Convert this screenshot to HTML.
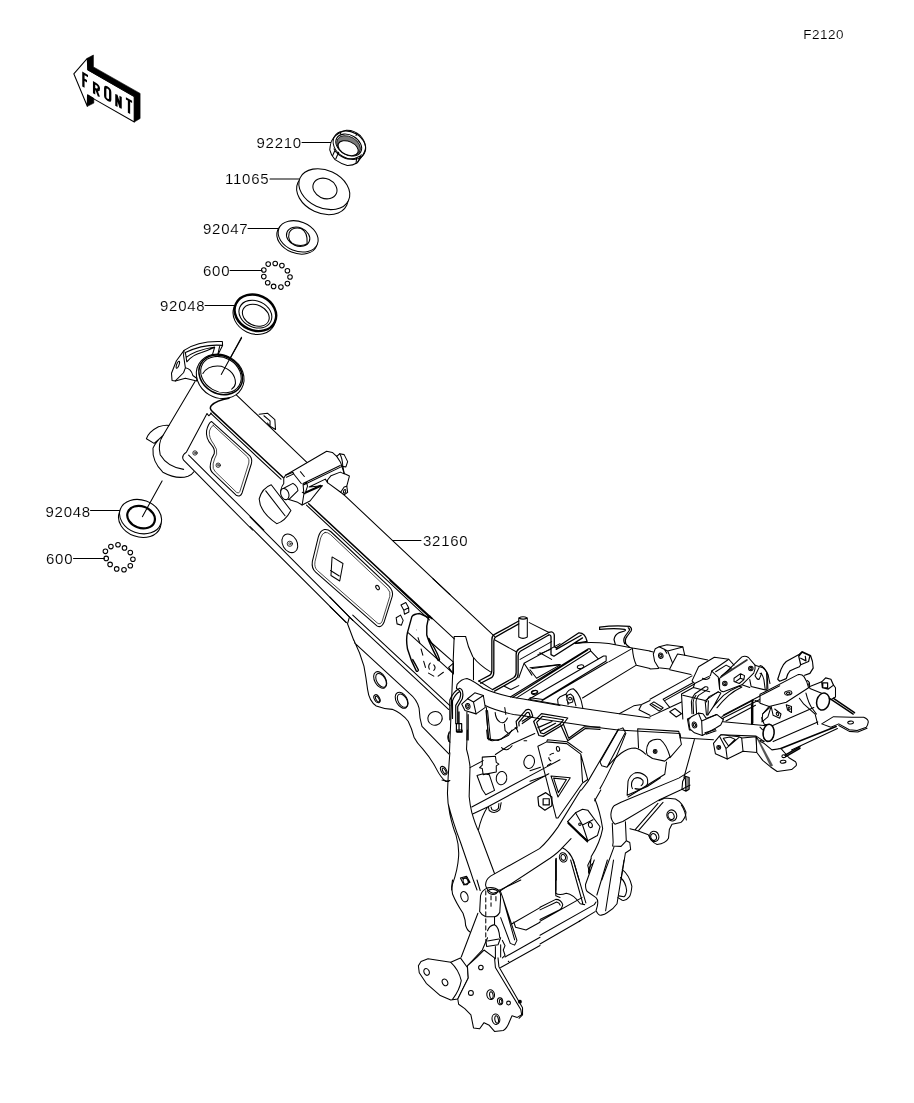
<!DOCTYPE html>
<html>
<head>
<meta charset="utf-8">
<title>F2120 Frame</title>
<style>
html,body{margin:0;padding:0;background:#fff;}
body{width:914px;height:1103px;overflow:hidden;position:relative;font-family:"Liberation Sans",sans-serif;}
svg{position:absolute;left:0;top:0;}
.l{fill:none;stroke:#000;stroke-width:1.05;stroke-linecap:round;stroke-linejoin:round;}
.w{fill:#fff;stroke:#000;stroke-width:1.05;stroke-linecap:round;stroke-linejoin:round;}
.k{fill:#000;stroke:#000;stroke-width:0.6;stroke-linejoin:round;}
.t{font-family:"Liberation Sans",sans-serif;font-size:15px;letter-spacing:0.75px;fill:#000;stroke:#fff;stroke-width:0.12px;filter:grayscale(1);}
.l,.w{vector-effect:non-scaling-stroke;}
.f{font-family:"Liberation Sans",sans-serif;font-weight:bold;fill:#000;}
.d{stroke-dasharray:4 3;}
</style>
</head>
<body>
<svg width="914" height="1103" viewBox="0 0 914 1103">
<!-- LABELS -->
<g class="t">
<text x="803.2" y="39" style="font-size:13.5px;letter-spacing:0.5px">F2120</text>
<text x="256.5" y="147.5">92210</text>
<text x="225" y="184">11065</text>
<text x="203" y="233.5">92047</text>
<text x="203" y="275.5">600</text>
<text x="160" y="310.5">92048</text>
<text x="45.5" y="516.5">92048</text>
<text x="46" y="563.5">600</text>
<text x="423" y="545.5">32160</text>
</g>
<!-- LEADERS -->
<g class="l">
<path d="M302 142.5H333"/>
<path d="M270 179H300"/>
<path d="M248 228.5H279"/>
<path d="M230 270.5H262"/>
<path d="M205 305.5H236"/>
<path d="M90.5 510.5H121"/>
<path d="M73.5 558.5H104.5"/>
<path d="M392.5 540.5H421"/>
</g>
<!-- FRONT ARROW -->
<g id="arrow">
<path class="w" d="M73.8 73.8L87.3 58.3L87.8 69.9L134.3 96.6V122L93.8 98.9L87.5 95.3L87.3 106.2Z"/>
<path class="k" d="M87.3 58.3L93.4 55V66.9L140.1 93.4V118.5L134.3 122V96.6L87.8 69.9Z"/>
<path class="k" d="M87.6 94.6L93.8 98.3V103.1L87.4 106.3Z"/>
<g fill="none" stroke="#000" stroke-width="2.3" stroke-linejoin="miter" stroke-linecap="butt">
<path transform="translate(82.2 71.5) skewY(30)" d="M1.2 14.9V1.2H5.8M1.2 7.0H4.8"/>
<path transform="translate(92.9 81) skewY(30)" d="M1.2 12.2V1.2H3Q6.0 1.2 6.0 3.4Q6.0 6.6 3 6.6H1.2M3.4 6.6L6.0 12.2"/>
<path transform="translate(104 84.3) skewY(30)" d="M1.2 3.6Q1.2 1.2 3.7 1.2Q6.2 1.2 6.2 3.6V11.1Q6.2 13.5 3.7 13.5Q1.2 13.5 1.2 11.1Z"/>
<path transform="translate(115.2 93.3) skewY(30)" d="M1.2 12.3V0.6L5.3999999999999995 11.700000000000001V0"/>
<path transform="translate(125.9 97.1) skewY(30)" d="M0 1.2H6.2M3.1 1.2V14.4"/>
</g>
</g>
<!-- PARTS -->
<g id="parts">
<g transform="translate(300 120) scale(0.08753)">
<path class="w" d="M345 300Q350 240 385 200Q440 140 530 118Q620 115 690 180Q745 240 750 310Q748 360 705 420L650 492Q600 522 540 520Q470 500 400 452Q355 405 340 340Z"/>
<ellipse class="l" cx="564" cy="287" rx="196" ry="150" transform="rotate(30 564 287)" />
<ellipse class="l" cx="557" cy="286" rx="158" ry="112" transform="rotate(30 557 286)"/><ellipse class="l" cx="556" cy="292" rx="146" ry="100" transform="rotate(30 556 292)" style="fill:#7a7a7a;stroke-width:0.8"/>
<ellipse class="w" cx="550" cy="322" rx="122" ry="76" transform="rotate(24 550 322)" />
<path class="l" d="M400 345L372 408M442 368L408 445M388 330Q420 400 520 440Q610 460 690 412M648 430L640 495M700 398L660 480M455 140L470 165M650 150L640 178"/>
</g>
<g transform="translate(200 120) scale(0.21882)">
<ellipse class="w" cx="559" cy="338" rx="123" ry="87" transform="rotate(25 559 338)" />
<ellipse class="w" cx="568" cy="316" rx="122" ry="86" transform="rotate(25 568 316)" />
<ellipse class="l" cx="571" cy="313" rx="57" ry="45" transform="rotate(25 571 313)" />
</g>
<g transform="translate(150 200) scale(0.21882)">
<ellipse class="w" cx="672" cy="175" rx="96" ry="68" transform="rotate(22 672 175)" />
<ellipse class="w" cx="677" cy="166" rx="95" ry="67" transform="rotate(22 677 166)" />
<ellipse class="l" cx="677" cy="168" rx="55" ry="42" transform="rotate(22 677 168)" />
<path class="l" d="M636 150Q650 122 690 130Q722 145 718 200M636 150Q625 190 665 205Q700 212 718 200"/>
</g>
<circle class="l" cx="263.8" cy="270" r="2.3"/><circle class="l" cx="268.2" cy="264.1" r="2.3"/><circle class="l" cx="275.2" cy="263.5" r="2.3"/><circle class="l" cx="281.9" cy="265.6" r="2.3"/><circle class="l" cx="287.4" cy="270.7" r="2.3"/><circle class="l" cx="290" cy="277" r="2.3"/><circle class="l" cx="287.4" cy="283.6" r="2.3"/><circle class="l" cx="280.9" cy="287.1" r="2.3"/><circle class="l" cx="273.6" cy="286.4" r="2.3"/><circle class="l" cx="267.7" cy="282.7" r="2.3"/><circle class="l" cx="263.8" cy="276.6" r="2.3"/>
<g transform="translate(130 280) scale(0.21882)">
<ellipse class="w" cx="568" cy="163" rx="100" ry="82" transform="rotate(25 568 163)" />
<ellipse class="w" cx="573" cy="150" rx="98" ry="80" transform="rotate(25 573 150)" style="stroke-width:2.4"/>
<ellipse class="l" cx="573" cy="156" rx="78" ry="60" transform="rotate(25 573 156)" />
<ellipse class="l" cx="575" cy="161" rx="64" ry="47" transform="rotate(25 575 161)" />
<path class="l" d="M510 265L418 430"/>
</g>
<g transform="translate(30 420) scale(0.26258)">
<ellipse class="w" cx="418" cy="381" rx="83" ry="64" transform="rotate(20 418 381)" />
<ellipse class="w" cx="421" cy="368" rx="82" ry="63" transform="rotate(20 421 368)" />
<ellipse class="l" cx="423" cy="370" rx="54" ry="41" transform="rotate(20 423 370)" style="stroke-width:2.2"/>
<path class="l" d="M503 232L428 368"/>
</g>
<circle class="l" cx="105.4" cy="551.3" r="2.3"/><circle class="l" cx="110.9" cy="546.6" r="2.3"/><circle class="l" cx="118" cy="544.7" r="2.3"/><circle class="l" cx="124.5" cy="547.9" r="2.3"/><circle class="l" cx="130.3" cy="552.6" r="2.3"/><circle class="l" cx="132.9" cy="559.2" r="2.3"/><circle class="l" cx="130.3" cy="565.7" r="2.3"/><circle class="l" cx="124" cy="569.7" r="2.3"/><circle class="l" cx="116.7" cy="568.9" r="2.3"/><circle class="l" cx="110.1" cy="564.4" r="2.3"/><circle class="l" cx="106.2" cy="558.4" r="2.3"/>
</g>
<!-- FRAME -->
<g id="frame">
<!-- headtop -->
<g transform="translate(160 335) scale(0.10941)">
<path class="w" d="M220 140L150 235L105 350L110 415L140 420L232 395L335 420L345 330L380 250L480 178L528 182L572 95L570 60Q350 50 220 140Z"/>
<path class="l" d="M232 160Q400 80 572 95M215 185L232 300L215 345L140 420M220 140L215 185M232 300Q285 310 300 370L335 395M245 245Q300 180 380 160Q440 140 500 112M240 205Q320 140 500 110L480 178M545 105L528 182M232 160L245 245"/>
<ellipse class="l" cx="163" cy="272" rx="11" ry="34" transform="rotate(20 163 272)" />
<ellipse class="w" cx="550" cy="378" rx="225" ry="195" transform="rotate(30 550 378)" />
<ellipse class="l" cx="555" cy="364" rx="208" ry="172" transform="rotate(30 555 364)" style="stroke-width:1.6"/>
<ellipse class="l" cx="557" cy="362" rx="194" ry="156" transform="rotate(30 557 362)" />
<path class="l" d="M392 352Q440 270 560 285Q690 330 690 440Q685 475 655 495"/>
<path class="l" d="M745 20L560 360"/>
</g>
<!-- tileA -->
<g transform="translate(130 330) scale(0.21882)">
<path class="l" d="M297 235L152 480"/>
<path class="l" d="M152 480Q118 510 105 540Q100 600 150 650Q215 685 265 668Q285 660 292 648M152 480Q125 520 138 570Q170 625 245 637M75 497Q85 465 130 442Q160 433 178 436M75 497L110 518L150 484"/>
<path class="l" d="M487 298L812 608"/>
<path class="l" d="M452 312Q395 322 372 345Q360 360 378 374L700 674" style="stroke-width:1.5"/>
<path class="l" d="M368 380L690 682"/>
<path class="l" d="M352 382L360 392L372 380M352 382L258 558Q232 575 245 595L560 914M268 572L612 914"/>
<path class="l" d="M372 418L548 575Q560 590 555 610L512 745Q505 765 485 755L380 655Q362 640 368 610Q372 585 385 565Q390 545 372 525Q345 495 350 460Q358 425 372 418Z"/>
<path class="l" style="stroke-width:0.7" d="M380 436L537 580Q547 592 543 608L502 738Q497 750 487 742L390 648Q376 635 380 612Q385 588 396 568Q401 545 383 522Q359 492 363 462Q368 442 380 436Z"/>
<g style="stroke-width:0.8"><circle class="l" cx="297" cy="562" r="10" style="stroke-width:0.8"/><circle class="l" cx="297" cy="562" r="4" style="stroke-width:0.6"/><circle class="l" cx="403" cy="618" r="10" style="stroke-width:0.8"/><circle class="l" cx="403" cy="618" r="4" style="stroke-width:0.6"/></g>
<path class="l" d="M590 385L628 380L662 410L665 455L640 440L640 415L612 392M640 440L628 425"/>
</g>
<!-- tileB -->
<g transform="translate(250 430) scale(0.21882)">
<path class="l" d="M425 292L914 752"/>
<path class="l" d="M268 337L832 862" style="stroke-width:1.5"/>
<path class="l" d="M258 343L820 868"/>
<path class="l" d="M0 397L445 845L470 870M0 441L440 880"/>
<path class="l" d="M97 250Q55 265 42 315Q45 375 122 428Q160 418 187 368ZM72 278L160 392"/>
<ellipse class="l" cx="182" cy="518" rx="33" ry="45" transform="rotate(-30 182 518)" /><circle class="l" cx="182" cy="520" r="12" style="stroke-width:0.8"/><circle class="l" cx="182" cy="520" r="5" style="stroke-width:0.6"/>
<path class="l" d="M340 455Q320 460 312 490L285 600Q280 632 300 650L580 895Q600 907 612 880L650 760Q656 735 635 715L370 465Q355 452 340 455Z"/>
<path class="l" style="stroke-width:0.7" d="M343 468Q330 470 323 493L297 602Q293 628 308 642L582 882Q596 892 604 874L639 760Q644 740 628 724L368 478Q355 466 343 468Z"/>
<path class="l" d="M375 580L425 610L410 690L370 665ZM368 642L408 667"/>
<ellipse class="l" cx="583" cy="720" rx="7" ry="11" transform="rotate(-30 583 720)" />
<path class="l" d="M690 800L712 788L725 812L703 824ZM703 824L706 842L726 832L725 812M668 858L688 846L700 870L692 892L672 886ZM668 858L672 886"/>
</g>
<!-- box -->
<g transform="translate(275 445) scale(0.08753)">
<path class="w" d="M120 345L590 72L655 85L705 130L740 100L790 110L830 190L810 250L775 245L790 325L850 355L820 470L830 540L790 570L750 540L600 430L575 390L390 480L540 465L400 640L310 685L250 650L150 620Q60 600 65 520Q75 470 100 440L100 380Z"/>
<path class="l" d="M205 320L300 440M320 440L745 235M330 455L755 250M320 440L330 560L310 685M320 440L360 428L372 470L342 558L312 540M340 555L540 465M345 540L520 460M705 130L750 200L790 325M740 100Q770 150 775 245M600 400L640 350L745 310M600 430L600 400M745 310L790 330M750 540L790 480L820 470M120 345L205 312L215 330L130 368M290 305L335 360"/>
<ellipse class="w" cx="112" cy="560" rx="45" ry="66" transform="rotate(-20 112 560)" />
<path class="l" d="M100 495L205 438Q260 470 262 520L160 622"/>
<ellipse class="l" cx="795" cy="530" rx="12" ry="22" transform="rotate(20 795 530)" />
</g>
<!-- tileC -->
<g transform="translate(330 580) scale(0.21882)">
<path class="l" d="M470 -6L752 258"/>
<path class="l" d="M275 2L458 172" style="stroke-width:1.5"/>
<path class="l" d="M80 160L95 175L543 592M104 160L548 574M0 78L80 160M0 122L75 195"/>
<path class="l" d="M88 172L80 200L108 274"/>
</g>
<!-- junction -->
<g transform="translate(440 620) scale(0.13129)">
<path class="l" d="M72 1011L108 125H195Q210 200 250 280Q300 345 385 395M255 292V455"/>
<path class="l" d="M295 465L380 420Q395 410 395 380V150Q395 120 415 110L600 8M310 482L395 437Q410 425 410 392V160Q412 135 425 128L600 30" style="stroke-width:1.3"/>
<path class="l" d="M400 530L560 440Q580 428 580 400V262Q580 235 600 222L830 95M415 542L575 452Q595 438 595 410V272Q597 248 612 238L825 116" style="stroke-width:1.3"/>
<path class="l" d="M295 465L400 530M415 150L580 242M680 20L830 95M600 -15V130Q632 150 665 130V-15M600 -15Q632 -35 665 -15Q632 2 600 -15M610 300L850 165M600 440L640 330L700 420M640 330L914 180M850 300L760 250M700 370L914 340"/>
<path class="l" d="M150 540L125 520L130 490Q160 450 205 445Q260 465 330 520Q420 562 560 590Q700 612 914 652M340 650Q420 690 560 720L650 732"/>
<path class="l" d="M75 760V610Q100 545 150 520Q185 530 170 600L135 660V790M95 750V615Q115 565 150 545Q165 555 150 600L120 650V790M125 790H165V850H125ZM145 700V850" style="stroke-width:1.2"/>
<path class="w" d="M165 640L210 600L265 555L330 575L345 665L275 715L190 690Z"/><path class="l" d="M210 600L255 625L275 715M255 625L330 575"/><ellipse class="l" cx="212" cy="658" rx="17" ry="22" transform="rotate(-10 212 658)" /><ellipse class="l" cx="212" cy="658" rx="8" ry="12" transform="rotate(-10 212 658)" />
<path class="l" d="M205 700V914M215 720V914M350 690L372 914M362 690L385 914"/>
<path class="l" d="M490 505L540 530L600 500"/><ellipse class="l" cx="720" cy="548" rx="22" ry="12" transform="rotate(-10 720 548)" />
</g>
<!-- D1 -->
<g transform="translate(530 610) scale(0.13129)">
<path class="l" d="M144 171Q180 158 185 190V280L200 288L370 175Q420 172 435 240L345 255M140 192Q158 185 160 205V340L182 352L400 212M200 300L390 192" style="stroke-width:1.3"/>
<path class="l" d="M60 340L158 300"/>
<path class="l" d="M345 255Q460 240 600 255L780 290L914 312"/>
<path class="l" d="M530 130Q650 115 760 125Q780 140 770 160L740 200Q715 230 735 265L760 285M530 148Q650 136 720 148Q735 152 720 160L680 172Q645 190 640 225L650 262M530 130V148M748 135Q762 142 755 158L725 198Q705 228 722 258" style="stroke-width:1.2"/>
<path class="l" d="M780 292Q785 370 810 420L914 445M780 292L600 395M810 420L400 670"/>
<path class="l" d="M-150 663L445 295L458 296L462 312L-102 669M-130 665L440 305M-12 682L560 350H580V388L100 682M90 692L590 398M462 312L520 372L560 350" />
<path class="l" d="M0 440L230 415M0 455L50 520L230 418"/><ellipse class="l" cx="385" cy="432" rx="25" ry="14" transform="rotate(-10 385 432)" /><ellipse class="l" cx="35" cy="628" rx="25" ry="14" transform="rotate(-10 35 628)" />
<path class="l" d="M100 682L0 668M0 682L300 735L680 790L914 822"/>
<path class="l" d="M215 722L210 680L230 660L275 640Q290 605 330 600Q370 630 390 690L402 745M285 650L310 640L330 660L325 700L295 710L280 685ZM275 640L290 720M330 660L350 730"/><circle class="l" cx="305" cy="675" r="11"/>
<path class="l" d="M680 790L790 730L850 720L914 690M830 760L850 720M830 760L914 802"/>
</g>
<!-- D2 -->
<g transform="translate(650 610) scale(0.13129)">
<path class="w" d="M25 335L40 295L70 280L130 265L250 280L265 345L210 335L170 410L150 450L65 440L35 390Z"/><path class="l" d="M70 280L135 312L172 405M135 312L250 282M110 300L128 330"/><ellipse class="l" cx="82" cy="348" rx="17" ry="21" transform="rotate(-15 82 348)" /><ellipse class="l" cx="82" cy="348" rx="8" ry="11" transform="rotate(-15 82 348)" />
<path class="l" d="M0 315L25 320M265 345L440 380M0 450L65 445M150 455L312 492"/>
<path class="l" d="M0 680L320 502M100 680L330 552M112 690L335 565M100 680L150 742L240 700M0 812L150 742"/>
<path class="l" d="M0 720L30 700L100 745L70 770ZM20 718L88 757"/>
<path class="w" d="M320 540L370 432L490 360L600 375L470 465L460 500L340 560Z"/>
<path class="w" d="M530 520L700 357Q725 345 750 362L800 420Q805 455 790 480L700 570L560 622Q535 620 530 600Z"/><path class="l" d="M542 508L738 380" style="stroke-width:1.8;stroke:#333"/><circle class="l" cx="570" cy="560" r="17"/><circle class="l" cx="570" cy="560" r="8"/><circle class="l" cx="768" cy="445" r="17"/><circle class="l" cx="768" cy="445" r="8"/>
<path class="l" d="M470 465L520 512L530 600M600 375L640 420M500 470L580 420L620 442L545 502M400 520Q430 540 455 515"/>
<path class="l" d="M340 560L330 590L240 640L250 830M250 650L420 690L520 622M330 590L455 622M420 690L430 800M445 692L440 800"/>
<path class="l" d="M320 790L315 700Q320 660 340 640L420 585Q448 580 440 605L370 650Q352 670 350 700L355 790M332 790L328 705Q332 668 350 650"/>
<path class="l" d="M430 700Q435 675 450 660L520 625L540 632L480 740L440 800M480 740Q520 690 560 650Q620 605 680 580L700 586Q640 615 600 650Q550 695 510 745"/>
<path class="l" d="M640 520L690 485L720 500L715 530L680 560L640 545ZM690 485L688 520L715 530M688 520L650 548"/>
<path class="l" d="M800 420L860 440Q900 470 905 520L914 560M830 440Q815 470 800 500Q815 530 830 530Q845 500 850 480M760 530L770 582L890 612M890 480V612M700 570L760 590M560 800L900 622M540 832L914 642"/>
<path class="l" d="M780 690V860" style="stroke-width:2"/><path class="l" d="M800 690L914 730M860 790L914 742M850 820L870 870L914 882"/>
<path class="l" d="M150 775L190 750L240 790L200 815Z"/>
<path class="w" d="M300 914L285 830L330 810Q360 785 380 790L420 830L400 860L385 914Z"/><ellipse class="l" cx="340" cy="875" rx="14" ry="21" transform="rotate(-15 340 875)" /><path class="l" d="M400 860L500 800L560 830L470 892"/>
</g>
<!-- E -->
<g transform="translate(760 630) scale(0.13129)">
<path class="l" d="M135 375L160 300Q175 260 200 240L300 185L320 165L385 195Q405 240 405 290L380 330L340 345M295 200L320 170L380 195L370 240L310 265ZM310 215L350 235L345 200M200 370Q210 330 230 310Q270 290 300 280L310 265M135 375L150 390L200 370" style="stroke-width:1.2"/>
<path class="l" d="M0 270Q35 280 50 320Q60 380 60 450M0 330Q20 335 30 380L40 455"/>
<path class="w" d="M0 490L290 340Q320 335 335 355Q360 390 370 440L200 550L70 582L0 558Z"/><path class="l" d="M0 502L150 425"/><ellipse class="l" cx="215" cy="480" rx="28" ry="16" transform="rotate(-8 215 480)" /><ellipse class="l" cx="215" cy="482" rx="14" ry="8" transform="rotate(-8 215 482)" />
<path class="l" d="M360 385Q385 400 375 425"/>
<path class="l" d="M85 582L100 650L150 672L160 640L112 602M200 570L240 582V628L210 610ZM70 582L20 640L15 700L60 662L85 582"/><ellipse class="l" cx="133" cy="640" rx="8" ry="14" transform="rotate(-20 133 640)" /><ellipse class="l" cx="222" cy="598" rx="7" ry="12" transform="rotate(-15 222 598)" />
<ellipse class="l" cx="65" cy="790" rx="38" ry="60" transform="rotate(8 65 790)" style="stroke-width:1.4"/>
<path class="l" d="M80 735L410 590M100 850L440 700M20 760L0 740M30 850L0 840"/>
<path class="l" d="M380 445L470 482M370 410L380 445M380 430L470 395M560 420L575 440V510L540 530"/>
<ellipse class="w" cx="480" cy="545" rx="48" ry="66" transform="rotate(15 480 545)" style="stroke-width:1.5"/>
<path class="l" d="M470 395L500 365L540 375L560 420L520 450L475 440ZM478 402H515V440H478Z" style="stroke-width:1.2"/>
<path class="l" d="M530 520L710 640M560 520L720 630" style="stroke-width:1.5"/>
<path class="w" d="M470 715L560 660L700 665H790Q825 680 825 700Q820 730 810 740L740 765L680 760L600 715L540 740Z"/><path class="l" d="M600 727L680 772L745 777L815 748"/><ellipse class="l" cx="690" cy="705" rx="22" ry="11" transform="rotate(-5 690 705)" />
<path class="l" d="M330 560L420 640L440 720M350 480Q370 560 400 600L430 640M300 520L330 560"/>
<path class="l" d="M130 914L580 735" style="stroke-width:1.6"/><path class="l" d="M240 914L590 750"/>
</g>
<!-- F -->
<g transform="translate(680 700) scale(0.13129)">
<path class="l" d="M320 125L560 0M350 160L575 40M0 288L255 303M110 300L30 590"/>
<path class="l" d="M548 40V180" style="stroke-width:2"/>
<path class="l" d="M330 165L640 195L672 188M310 265L580 275L640 315"/><ellipse class="w" cx="675" cy="250" rx="42" ry="65" transform="rotate(5 675 250)" style="stroke-width:1.5"/>
<path class="w" d="M65 150L90 125L140 100L175 105L200 140L280 110L330 150L310 190L270 215L170 270L110 250L75 220Z"/><path class="l" d="M140 100L165 160L170 270M165 160L280 110M190 250L270 225M200 260L275 235"/><ellipse class="l" cx="110" cy="190" rx="17" ry="23" transform="rotate(-15 110 190)" /><ellipse class="l" cx="110" cy="190" rx="8" ry="12" transform="rotate(-15 110 190)" />
<path class="w" d="M255 330L300 275L315 265L450 280L470 290L580 280L585 400L480 390L360 450L270 410Z"/><path class="l" d="M300 275L350 370L360 450M350 370L450 285M330 292L380 282L420 300L370 350ZM470 290L480 390"/><circle class="l" cx="295" cy="362" r="15"/><circle class="l" cx="295" cy="362" r="7"/>
<path class="w" d="M580 280L600 310L640 330L700 380L770 370L830 440L880 470Q890 485 885 500L850 530L740 545L690 510L630 460L585 400Z"/><path class="k" d="M586 296L608 314L708 498L690 510Z" style="fill:#555;stroke:#333"/><ellipse class="l" cx="785" cy="470" rx="22" ry="11" transform="rotate(-5 785 470)" /><ellipse class="l" cx="790" cy="428" rx="14" ry="11" transform="rotate(0 790 428)" />
<path class="l" d="M800 420L914 355M805 432L914 368" style="stroke-width:1.4"/>
<path class="k" d="M42 582L70 590V680L46 694Z" style="fill:#8a8a8a;stroke:none"/><path class="l" d="M20 620L40 580L70 590V680L45 695L15 680ZM40 580L45 695"/>
<path class="l" d="M10 800Q42 845 48 914"/>
</g>
<!-- G -->
<g transform="translate(530 720) scale(0.17505)">
<path class="l" d="M45 150L95 125L210 135L290 195L330 340L300 360L160 560H150ZM95 125L100 113L212 124L296 185M290 195L300 352M120 320L230 330L160 440ZM135 332L208 340L162 415Z"/><ellipse class="l" cx="160" cy="165" rx="9" ry="14" transform="rotate(-10 160 165)" />
<path class="l d" d="M135 190Q105 195 108 220Q115 240 135 232M100 260L125 245"/>
<path class="l" d="M45 440L90 415L125 440V490L85 515L50 490ZM75 450H110V485H75Z" style="stroke-width:1.2"/><path class="l" d="M0 290L60 270M0 350L80 322"/>
<path class="l" d="M505 52L330 352L294 400M548 75Q500 200 470 255Q430 340 400 392"/>
<path class="l" d="M400 240L505 55L530 45L545 70L440 270L410 262ZM440 270Q480 220 520 190Q560 160 600 160Q630 165 660 195"/>
<path class="l" d="M615 50L850 65L865 140L800 215M615 50L620 160M665 180Q665 150 680 128Q705 105 745 112Q780 140 800 210L770 235L700 220L670 200ZM780 240L770 310L560 440"/><circle class="l" cx="715" cy="180" r="11"/><circle class="l" cx="715" cy="180" r="5"/>
<path class="l" d="M555 430L560 350Q570 315 600 302Q640 295 668 328Q680 360 660 385Q630 400 600 392M585 392Q570 360 595 335Q625 320 645 345Q650 365 635 375M555 430L670 380L745 330"/>
<path class="l" d="M485 595Q462 575 462 540Q465 505 480 490L520 470L850 332L914 292M485 595L530 580L740 455L860 400L914 372"/>
<path class="l" d="M470 590L475 700L472 720L520 722L550 690L545 582M550 690L570 700L575 740L545 760M480 725L410 914M545 760L520 914"/>
<path class="l" d="M736 461L771 446L831 451Q871 471 891 526Q891 561 861 586L811 596L796 626L791 676Q776 706 726 711Q691 696 676 656L611 631L571 621M731 476L601 626M746 486L621 631M760 470L740 492"/><ellipse class="l" cx="810" cy="545" rx="28" ry="32" transform="rotate(-20 810 545)" /><ellipse class="l" cx="806" cy="548" rx="17" ry="21" transform="rotate(-20 806 548)" /><ellipse class="l" cx="710" cy="665" rx="26" ry="30" transform="rotate(-20 710 665)" /><ellipse class="l" cx="706" cy="668" rx="16" ry="20" transform="rotate(-20 706 668)" />
<path class="w" d="M215 580L260 530L300 510L330 515L400 610L385 660L330 690L290 660Z"/><path class="l" d="M260 530L300 600L330 690M300 600L360 570M215 580L330 690" /><path class="l" d="M218 590L328 695" style="stroke-width:1.6"/><ellipse class="l" cx="345" cy="600" rx="11" ry="15" transform="rotate(-15 345 600)" /><circle class="l" cx="285" cy="595" r="7"/>
<path class="l" d="M370 450Q400 520 415 620Q400 700 350 780L340 860M350 790L330 830L340 872"/>
<ellipse class="l" cx="190" cy="785" rx="22" ry="27" transform="rotate(-15 190 785)" /><ellipse class="l" cx="190" cy="785" rx="13" ry="17" transform="rotate(-15 190 785)" /><path class="l" d="M185 730Q230 750 250 810L280 914M200 738Q240 765 262 850M150 790V914"/>
</g>
<!-- H1 -->
<g transform="translate(400 730) scale(0.17505)">
<path class="l" d="M240 286L268 292L285 288"/>
<path class="l" d="M285 130Q275 250 272 340Q268 400 285 480Q300 550 320 600Q338 660 335 720Q330 800 300 880L295 914M275 420Q300 520 345 640Q390 770 420 860L440 914M385 0L380 110Q395 160 400 210L395 380Q400 430 410 470Q430 540 450 580L540 820"/>
<path class="l" d="M400 215L475 175M545 140L640 78L770 20M410 440L830 215L914 170M415 480L500 440L850 250M500 440Q465 495 448 570"/>
<path class="l" d="M470 155L545 150L550 185L565 195L550 205V240L475 255L470 220L455 215L470 200ZM440 260L475 250L510 255L540 345L490 370L470 340Z"/>
<ellipse class="l" cx="580" cy="275" rx="30" ry="38" transform="rotate(10 580 275)" /><ellipse class="l" cx="738" cy="182" rx="30" ry="38" transform="rotate(10 738 182)" />
<path class="l" d="M505 440L510 460Q540 485 570 455L578 415M520 440L525 455Q545 468 562 448L565 420"/>
<path class="l" d="M495 0L500 50L560 60L620 30L640 0M580 100Q610 130 640 90"/>
<path class="l" d="M890 735V914"/>
<path class="l" d="M345 845L380 835L400 870L365 885ZM355 850L385 842L392 868"/>
<path class="l" d="M325 0H355V12H325ZM282 10Q270 40 285 70"/>
</g>
<!-- H2 -->
<g transform="translate(400 880) scale(0.17505)">
<path class="l" d="M300 0Q290 40 300 80Q320 130 360 190Q375 230 375 260Q385 290 400 297"/><ellipse class="l" cx="368" cy="95" rx="20" ry="30" transform="rotate(-20 368 95)" /><ellipse class="l" cx="375" cy="8" rx="14" ry="20" transform="rotate(-20 375 8)" />
<path class="l" d="M445 190L350 440M500 330L470 400L385 490M440 0L458 60"/>
<path class="w" d="M455 180L460 90Q465 60 500 45Q540 38 565 60Q578 80 575 100L570 185Q555 210 540 210H490Q465 200 455 180Z"/><path class="l" d="M500 62Q525 42 558 62Q555 82 530 82Q505 80 500 62"/><path class="l d" d="M490 62V340M520 90V150M548 95V130"/>
<path class="l" d="M500 290Q510 260 540 255Q565 265 570 330M490 340L495 380L560 370L575 330M500 348L565 337M545 380V450M575 370V440M540 210V255"/>
<path class="l" d="M570 55L585 95L668 345L655 372L630 362L575 215M590 112L655 342M585 345L600 375L590 400L600 430L585 445"/>
<path class="l" d="M575 55L690 0M640 250L800 158M660 270L720 286L800 241M650 240L660 270M600 440L800 327M575 500L800 374M890 0V90L914 100"/><circle class="k" cx="620" cy="465" r="4"/>
<path class="w" d="M105 490L120 465L160 450L290 470L345 445L385 500L390 560L330 680L290 685L230 660L150 590L110 530Z"/><path class="l" d="M290 470Q335 510 350 575Q340 630 300 682"/><ellipse class="l" cx="152" cy="525" rx="15" ry="20" transform="rotate(-25 152 525)" /><ellipse class="l" cx="257" cy="585" rx="15" ry="20" transform="rotate(-25 257 585)" />
<path class="w" d="M385 490L440 440L480 400L540 445L545 500L690 740L695 770L670 785L640 775L625 810Q610 850 590 860L540 865L510 830L480 815L455 850L420 845L405 770L370 735L335 710L330 680L390 560Z"/><path class="l" d="M560 445L565 495L700 730V770L680 790"/>
<circle class="l" cx="462" cy="500" r="13"/><circle class="l" cx="405" cy="645" r="14"/><ellipse class="l" cx="518" cy="655" rx="22" ry="28" transform="rotate(-10 518 655)" /><ellipse class="l" cx="522" cy="658" rx="10" ry="20" transform="rotate(-10 522 658)" /><ellipse class="l" cx="572" cy="693" rx="15" ry="20" transform="rotate(-10 572 693)" /><ellipse class="l" cx="575" cy="695" rx="7" ry="14" transform="rotate(-10 575 695)" /><circle class="l" cx="620" cy="703" r="11"/><ellipse class="l" cx="548" cy="795" rx="22" ry="30" transform="rotate(-10 548 795)" /><ellipse class="l" cx="552" cy="797" rx="10" ry="22" transform="rotate(-10 552 797)" /><circle class="k" cx="685" cy="695" r="11"/>
</g>
<!-- H3 -->
<g transform="translate(540 860) scale(0.17505)">
<path class="l" d="M0 350L240 215M0 430L310 255L320 240M0 480L225 350L315 295M0 270L90 225Q120 225 130 255Q125 280 110 285L0 340M0 285L95 240Q112 245 115 258"/><circle class="k" cx="225" cy="350" r="4"/>
<path class="l" d="M90 0V190Q110 205 150 190Q190 195 230 250L255 255M175 0L245 250M190 0L262 245"/>
<path class="l" d="M300 20Q270 50 280 80M310 0L260 140Q260 170 270 180L320 215Q340 235 320 290Q335 320 350 315Q370 312 385 300Q420 280 440 250L480 0M420 0L375 290M385 0L325 200"/>
<path class="l" d="M470 55Q510 85 525 150Q520 200 510 210Q490 235 470 230L445 215M460 100Q490 125 495 175Q490 205 480 210L450 205"/>
</g>
<!-- K -->
<g transform="translate(390 600) scale(0.08753)">
<path class="l" d="M250 190Q270 160 340 155L440 200L455 185M250 190L200 370Q180 450 200 560Q240 700 300 810Q315 825 325 800Q290 730 260 680M440 200Q410 300 420 400Q440 470 500 590L550 690Q565 695 565 680Q550 620 480 500Q455 460 445 440" style="stroke-width:1.4"/>
<path class="l" d="M210 375L680 800L725 845M455 185L735 445M440 460L725 710M670 770L725 720V845Z"/>
<path class="l" d="M320 430L340 490M355 560L375 630M385 700L405 770M440 835L500 870M550 870L610 825M460 720Q430 750 450 790M500 740Q530 770 500 805"/><circle class="k" cx="305" cy="342" r="4"/>
</g>
<!-- M -->
<g transform="translate(440 690) scale(0.17505)">
<path class="l" d="M265 100L275 270Q285 292 300 290L350 280L395 245L440 212M315 128Q318 170 345 185Q370 195 385 160M368 195L372 232L388 246M370 100L376 140"/>
<path class="l" d="M440 218L435 180L490 115Q510 105 520 120L530 150L470 192M452 205L450 185L495 130Q505 125 510 132L515 150L470 178M430 215Q445 225 445 240" style="stroke-width:1.2"/>
<path class="l" d="M535 180L580 135L730 160L700 200L590 265L565 260ZM552 185L585 150L705 170L685 195L592 250L575 245ZM560 215L640 180M575 235L660 190M690 200L730 290L830 220L914 225M705 195L735 275L825 210L914 212" style="stroke-width:1.2"/>
<path class="l" d="M480 290L495 290"/>
</g>
<!-- N -->
<g transform="translate(340 640) scale(0.1451)">
<path class="l" d="M95 0Q140 90 165 180Q180 260 190 340Q200 420 250 455Q300 475 360 478Q420 500 470 560Q495 610 510 670Q530 710 570 750Q630 820 665 890Q695 950 730 975L750 975M100 20L480 370Q530 410 545 470Q548 540 565 595L750 785"/>
<ellipse class="l" cx="277" cy="275" rx="38" ry="62" transform="rotate(-30 277 275)" /><ellipse class="l" cx="283" cy="278" rx="30" ry="52" transform="rotate(-30 283 278)" /><ellipse class="l" cx="255" cy="405" rx="18" ry="30" transform="rotate(-30 255 405)" /><ellipse class="l" cx="258" cy="407" rx="10" ry="22" transform="rotate(-30 258 407)" /><ellipse class="l" cx="425" cy="415" rx="38" ry="60" transform="rotate(-30 425 415)" /><ellipse class="l" cx="431" cy="418" rx="30" ry="50" transform="rotate(-30 431 418)" /><ellipse class="l" cx="655" cy="540" rx="50" ry="47" transform="rotate(-20 655 540)" /><ellipse class="l" cx="715" cy="900" rx="18" ry="32" transform="rotate(-30 715 900)" /><ellipse class="l" cx="718" cy="902" rx="9" ry="22" transform="rotate(-30 718 902)" />
<path class="l" d="M752 640Q735 670 750 700"/>
</g>
<!-- misc -->
<g>
<path class="l" d="M525.3 716.1Q560 722.8 618 730.1L680 733.6L680.8 737.8"/>
</g>
<!-- Q -->
<g transform="translate(480 790) scale(0.17505)">
<path class="l" d="M575 0L445 212Q390 290 340 335L60 492Q30 515 32 545Q40 580 75 590L110 580L400 390Q450 355 475 325L520 278M690 0L655 62"/>
</g>
</g>
</svg>
</body>
</html>
